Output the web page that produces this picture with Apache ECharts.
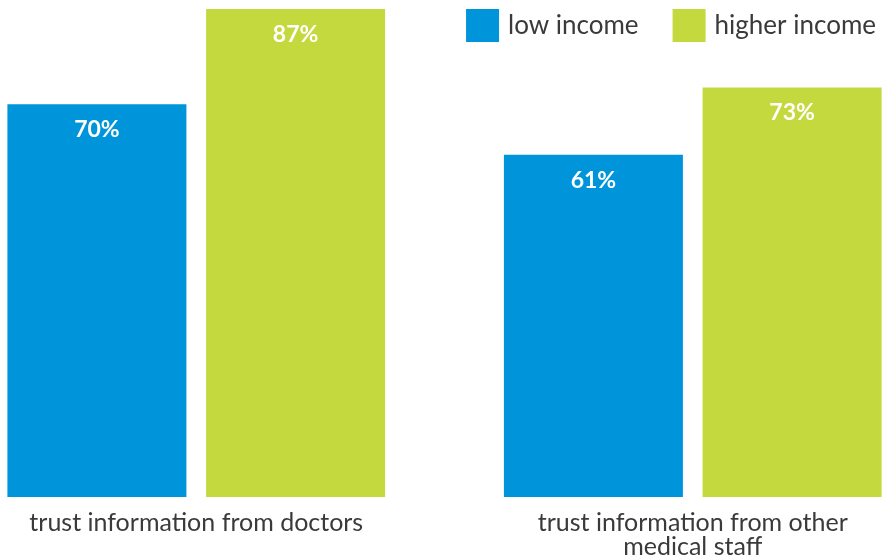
<!DOCTYPE html>
<html><head><meta charset="utf-8">
<script src="https://cdn.jsdelivr.net/npm/echarts@6/dist/echarts.min.js"></script>
<style>html,body{margin:0;padding:0;background:#fff}#c{width:883px;height:559px}</style>
</head><body><div id="c"></div>
<script>
const categories = ['trust information from doctors', 'trust information from other\nmedical staff'];
const lowIncome = [70, 61];
const higherIncome = [87, 73];
const seriesNames = ['low income', 'higher income'];

const chart = echarts.init(document.getElementById('c'));
const font = 'Lato';
chart.setOption({
  animation: false,
  legend: {
    top: 4, right: 2, itemWidth: 33, itemHeight: 33, itemGap: 34,
    icon: 'rect',
    textStyle: { fontFamily: font, fontSize: 26, color: '#3a3a3a', padding: [0, 0, 0, 4] },
    data: seriesNames
  },
  grid: { left: -52, right: -58, top: 9, bottom: 62, outerBoundsMode: 'none', containLabel: false },
  xAxis: {
    type: 'category', data: categories,
    axisLine: { show: false }, axisTick: { show: false },
    axisLabel: { fontFamily: font, fontSize: 25, color: '#3a3a3a', margin: 14, lineHeight: 24, interval: 0 }
  },
  yAxis: { type: 'value', min: 0, max: 87, show: false, splitLine: { show: false } },
  series: [
    { name: seriesNames[0], type: 'bar', data: lowIncome, barWidth: 179, barGap: '11%',
      itemStyle: { color: '#0095DA' },
      label: { show: true, position: 'insideTop', distance: 14, formatter: '{c}%', color: '#fff', fontFamily: font, fontWeight: 'bold', fontSize: 23 } },
    { name: seriesNames[1], type: 'bar', data: higherIncome, barWidth: 179, barGap: '11%',
      itemStyle: { color: '#C4D93E' },
      label: { show: true, position: 'insideTop', distance: 14, formatter: '{c}%', color: '#fff', fontFamily: font, fontWeight: 'bold', fontSize: 23 } }
  ]
});
</script></body></html>
